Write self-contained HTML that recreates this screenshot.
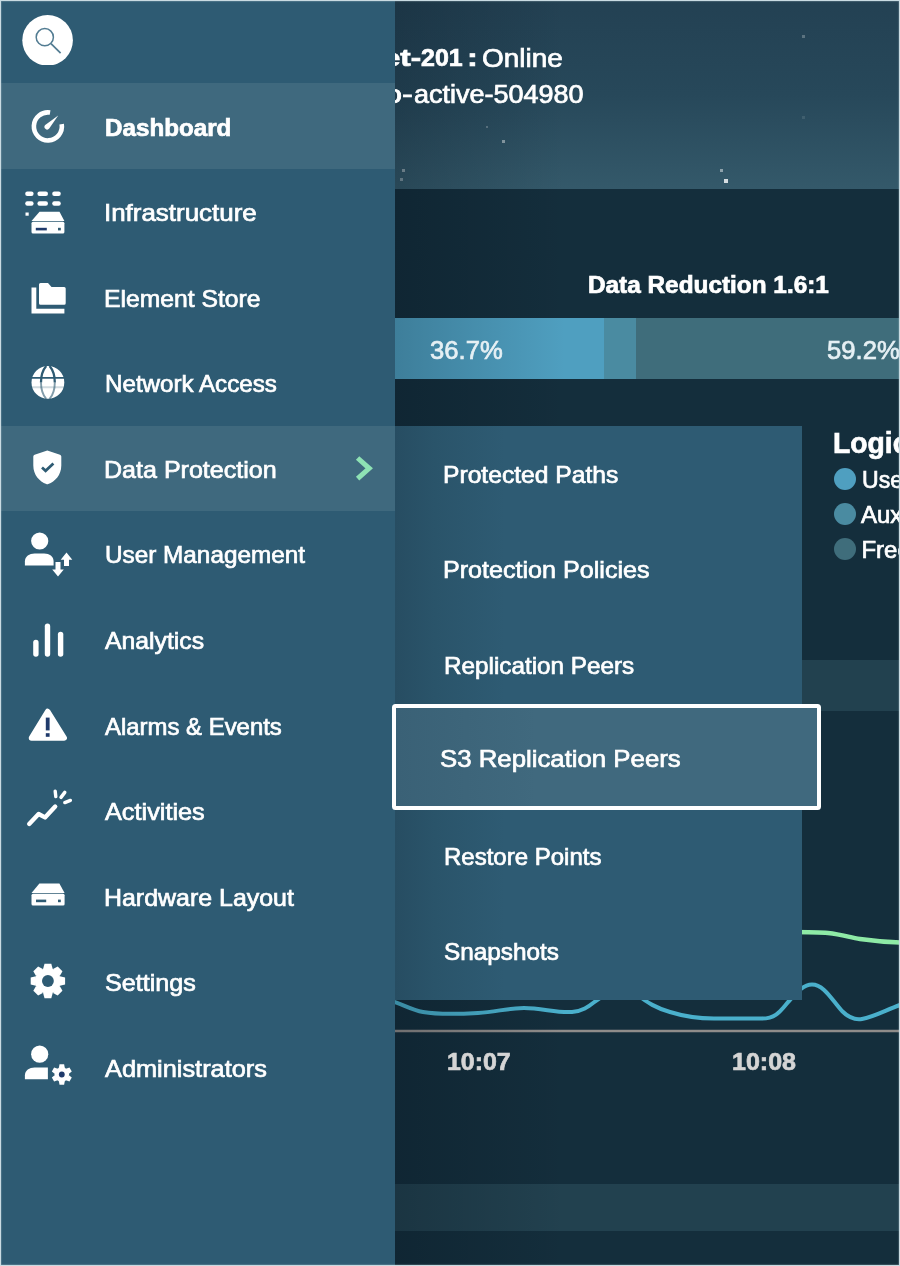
<!DOCTYPE html>
<html><head><meta charset="utf-8"><title>Dashboard</title>
<style>
html,body{margin:0;padding:0;background:#142e3c;}
body{width:900px;height:1266px;position:relative;overflow:hidden;font-family:"Liberation Sans",sans-serif;}
.abs{position:absolute;}
.t{position:absolute;white-space:nowrap;line-height:1;transform-origin:0 50%;display:inline-block;color:#fff;-webkit-text-stroke:0.7px currentColor;}
#wrap{position:absolute;left:0;top:0;width:900px;height:1266px;overflow:hidden;filter:blur(0.7px);}
svg{position:absolute;overflow:visible;}
</style></head><body>
<div id="wrap">

<div class="abs" id="main" style="left:395px;top:0;width:505px;height:1266px;background:#142e3c;overflow:hidden;">
<div class="abs" style="left:0;top:0;width:505px;height:189px;background:linear-gradient(180deg,#234153 0%,#27485a 50%,#34596a 100%);"></div>
<div class="abs" style="left:91.0px;top:126.0px;width:2px;height:2px;background:rgba(255,255,255,0.25);"></div>
<div class="abs" style="left:106.5px;top:140.0px;width:3px;height:3px;background:rgba(255,255,255,0.45);"></div>
<div class="abs" style="left:6.5px;top:169.0px;width:3px;height:3px;background:rgba(255,255,255,0.4);"></div>
<div class="abs" style="left:5.0px;top:177.5px;width:3px;height:3px;background:rgba(255,255,255,0.35);"></div>
<div class="abs" style="left:325.0px;top:169.0px;width:3px;height:3px;background:rgba(255,255,255,0.45);"></div>
<div class="abs" style="left:329.0px;top:178.5px;width:4px;height:4px;background:rgba(255,255,255,0.8);"></div>
<div class="abs" style="left:406.5px;top:34.5px;width:3px;height:3px;background:rgba(255,255,255,0.25);"></div>
<div class="abs" style="left:406.5px;top:115.5px;width:3px;height:3px;background:rgba(255,255,255,0.1);"></div>
<div class="abs" style="left:0;top:660px;width:505px;height:51px;background:#22414f;"></div>
<div class="abs" style="left:0;top:1184px;width:505px;height:47px;background:#22414f;"></div>
<div class="abs" style="left:0;top:318.3px;width:209px;height:60.5px;background:#4f9fc0;"></div>
<div class="abs" style="left:209px;top:318.3px;width:32px;height:60.5px;background:#4a8ba1;"></div>
<div class="abs" style="left:241px;top:318.3px;width:264px;height:60.5px;background:#3f6d7b;"></div>
<svg style="left:0;top:0" width="505" height="1266" viewBox="395 0 505 1266">
<line x1="395" y1="1031" x2="900" y2="1031" stroke="#8f8c8a" stroke-width="2.5"/>
<path d="M392 1001 C404 1005 412 1010 423 1012 C440 1015 460 1014 478 1013 C496 1012 508 1008 524 1008 C542 1008 556 1013 572 1012 C586 1011 592 1003 600 998 L610 990" fill="none" stroke="#4ab0cc" stroke-width="4"/>
<path d="M636 994 C648 1003 656 1008 670 1012 C686 1017 700 1018.5 714 1018.5 L762 1018.5 C778 1018.5 782 1008 790 1000 C798 991 804 984.5 812 984.5 C824 984.5 832 1000 842 1011 C850 1019 856 1020 862 1019 C874 1017 886 1010 900 1005" fill="none" stroke="#4ab0cc" stroke-width="4"/>
<path d="M790 932 C806 932 818 932 828 933 C842 934.5 850 937.5 860 939 C874 941 886 942 900 942.5" fill="none" stroke="#8eeaa6" stroke-width="4.5"/>
</svg>
<div class="abs" style="left:439px;top:467.8px;width:22px;height:22px;border-radius:50%;background:#4f9fc0;"></div>
<div class="abs" style="left:439px;top:502.6px;width:22px;height:22px;border-radius:50%;background:#4a8ba1;"></div>
<div class="abs" style="left:439px;top:537.6px;width:22px;height:22px;border-radius:50%;background:#3f6d7b;"></div>
<div class="abs" style="left:0;top:0;width:170px;height:1266px;background:linear-gradient(90deg,rgba(0,10,20,.22),rgba(0,10,20,0));"></div>
</div>
<span class="t" id="h1a" style="left:383.00px;top:46.38px;font-size:24px;font-weight:700;color:#fff;transform:scaleX(1.0000);transform:scaleX(1.3);">et-</span>
<span class="t" id="h1c" style="left:421.00px;top:46.38px;font-size:24px;font-weight:700;color:#fff;transform:scaleX(1.0000);transform:scaleX(1.04);">201</span>
<span class="t" id="h1d" style="left:467.00px;top:46.38px;font-size:24px;font-weight:700;color:#fff;transform:scaleX(1.0000);transform:scaleX(1.35);">:</span>
<span class="t" id="h1b" style="left:482.46px;top:44.69px;font-size:26px;color:#fff;transform:scaleX(1.0754);">Online</span>
<span class="t" id="h2a" style="left:384.40px;top:82.14px;font-size:25px;color:#fff;transform:scaleX(1.0000);transform:scaleX(1.3);">o-</span>
<span class="t" id="h2b" style="left:414.40px;top:82.14px;font-size:25px;color:#fff;transform:scaleX(1.0800);">active-504980</span>
<span class="t" id="dr" style="left:587.74px;top:273.81px;font-size:23.5px;font-weight:700;color:#fff;transform:scaleX(1.0361);">Data Reduction 1.6:1</span>
<span class="t" id="p1" style="left:429.51px;top:337.29px;font-size:26px;color:#e6f0f4;transform:scaleX(0.9861);">36.7%</span>
<span class="t" id="p2" style="left:827.40px;top:337.29px;font-size:26px;color:#e6f0f4;transform:scaleX(0.9861);">59.2%</span>
<span class="t" id="lg" style="left:833.20px;top:429.25px;font-size:29px;font-weight:700;color:#fff;transform:scaleX(1.0000);transform:scaleX(0.975);">Logical</span>
<span class="t" id="l1" style="left:862.00px;top:468.38px;font-size:24px;color:#fff;transform:scaleX(1.0000);transform:scaleX(0.96);">Used</span>
<span class="t" id="l2" style="left:861.00px;top:503.18px;font-size:24px;color:#fff;transform:scaleX(1.0000);">Aux</span>
<span class="t" id="l3" style="left:861.40px;top:537.68px;font-size:24px;color:#fff;transform:scaleX(1.0000);">Free</span>
<span class="t" id="t1" style="left:446.78px;top:1049.68px;font-size:24px;font-weight:700;color:#d5d5d5;transform:scaleX(1.0369);">10:07</span>
<span class="t" id="t2" style="left:732.45px;top:1049.68px;font-size:24px;font-weight:700;color:#d5d5d5;transform:scaleX(1.0419);">10:08</span>
<div class="abs" style="left:395px;top:426px;width:406.5px;height:573.5px;background:linear-gradient(90deg,#274d62 0px,#2a546a 40px,#2e5b73 110px);"></div>
<span class="t" id="s0" style="left:442.75px;top:462.68px;font-size:24px;color:#fff;transform:scaleX(1.0268);">Protected Paths</span>
<span class="t" id="s1" style="left:442.72px;top:558.18px;font-size:24px;color:#fff;transform:scaleX(1.0462);">Protection Policies</span>
<span class="t" id="s2" style="left:443.77px;top:653.68px;font-size:24px;color:#fff;transform:scaleX(1.0108);">Replication Peers</span>
<span class="t" id="s4" style="left:443.79px;top:845.18px;font-size:24px;color:#fff;transform:scaleX(1.0001);">Restore Points</span>
<span class="t" id="s5" style="left:443.72px;top:940.18px;font-size:24px;color:#fff;transform:scaleX(1.0135);">Snapshots</span>
<div class="abs" style="left:0;top:0;width:395px;height:1266px;background:#2e5b73;"></div>
<div class="abs" style="left:0;top:83px;width:395px;height:86px;background:#3f697e;"></div>
<div class="abs" style="left:0;top:426px;width:395px;height:85px;background:#3f697e;"></div>
<div class="abs" style="left:392px;top:704px;width:421px;height:98px;border:4px solid #fff;border-radius:3.5px;background:linear-gradient(90deg,#3a6176 0px,#40697e 140px);"></div>
<span class="t" id="s3" style="left:439.89px;top:747.18px;font-size:24px;color:#fff;transform:scaleX(1.0739);">S3 Replication Peers</span>
<span class="t" id="m0" style="left:105.48px;top:115.68px;font-size:24px;font-weight:700;color:#fff;transform:scaleX(1.0082);">Dashboard</span>
<span class="t" id="m1" style="left:104.30px;top:201.23px;font-size:24px;color:#fff;transform:scaleX(1.0798);">Infrastructure</span>
<span class="t" id="m2" style="left:104.33px;top:286.78px;font-size:24px;color:#fff;transform:scaleX(1.0288);">Element Store</span>
<span class="t" id="m3" style="left:104.86px;top:372.33px;font-size:24px;color:#fff;transform:scaleX(1.0064);">Network Access</span>
<span class="t" id="m4" style="left:103.80px;top:457.88px;font-size:24px;color:#fff;transform:scaleX(1.0439);">Data Protection</span>
<span class="t" id="m5" style="left:104.90px;top:543.43px;font-size:24px;color:#fff;transform:scaleX(1.0131);">User Management</span>
<span class="t" id="m6" style="left:105.48px;top:628.98px;font-size:24px;color:#fff;transform:scaleX(1.0317);">Analytics</span>
<span class="t" id="m7" style="left:104.50px;top:714.53px;font-size:24px;color:#fff;transform:scaleX(0.9968);">Alarms &amp; Events</span>
<span class="t" id="m8" style="left:105.47px;top:800.08px;font-size:24px;color:#fff;transform:scaleX(1.0532);">Activities</span>
<span class="t" id="m9" style="left:103.81px;top:885.63px;font-size:24px;color:#fff;transform:scaleX(1.0389);">Hardware Layout</span>
<span class="t" id="m10" style="left:104.93px;top:971.18px;font-size:24px;color:#fff;transform:scaleX(1.0471);">Settings</span>
<span class="t" id="m11" style="left:105.47px;top:1056.73px;font-size:24px;color:#fff;transform:scaleX(1.0554);">Administrators</span>
<svg style="left:0;top:0" width="395" height="1266"><path d="M357.6 458 L369.2 468.3 L357.6 478.6" fill="none" stroke="#8ee2b4" stroke-width="5"/></svg>
<svg style="left:0;top:0" width="395" height="1266" viewBox="0 0 395 1266" fill="#fff">
<!-- search -->
<clipPath id="sc"><rect x="20" y="10" width="60" height="54.9"/></clipPath><circle cx="47.6" cy="40.3" r="25.3" clip-path="url(#sc)"/>
<circle cx="44.8" cy="37.2" r="8.6" fill="none" stroke="#527c92" stroke-width="1.5"/>
<path d="M51 43.6 L60.6 53.2" stroke="#527c92" stroke-width="1.7" fill="none"/>
<!-- dashboard gauge -->
<path d="M50.1 112.6 A14 14 0 1 0 61.7 124.2" fill="none" stroke="#fff" stroke-width="4.6"/>
<path d="M58.2 115.4 L49.2 128.6 A2.6 2.6 0 0 1 45.2 125 Z"/>
<!-- infrastructure -->
<g>
<rect x="25.2" y="191.6" width="8.4" height="4.4" rx="2.2"/><rect x="37.4" y="191.6" width="10.6" height="4.4" rx="2.2"/><rect x="52.2" y="191.6" width="8.6" height="4.4" rx="2.2"/>
<rect x="25.2" y="201.3" width="8.4" height="4.4" rx="2.2"/><rect x="37.4" y="201.3" width="10.6" height="4.4" rx="2.2"/><rect x="52.2" y="201.3" width="8.6" height="4.4" rx="2.2"/>
<rect x="25.5" y="212.5" width="3.2" height="3.2"/>
<path d="M39.5 211.7 H59.5 L64.4 220.9 H31.5 Z"/>
<rect x="31.5" y="221.7" width="32.9" height="11.7" rx="1.5"/>
<rect x="35.8" y="227.8" width="11" height="2.6" fill="#1f3a6b"/><rect x="58" y="227.8" width="2.8" height="2.6" fill="#2e5b73"/>
</g>
<!-- element store -->
<path d="M31.5 287.5 H36.3 V308.7 H64.4 V313.5 H31.5 Z"/>
<path d="M39 284.5 a1.5 1.5 0 0 1 1.5 -1.5 H48 L51.5 287 H64.2 a1.5 1.5 0 0 1 1.5 1.5 V303.2 a1.5 1.5 0 0 1 -1.5 1.5 H40.5 a1.5 1.5 0 0 1 -1.5 -1.5 Z"/>
<!-- globe -->
<g>
<circle cx="47.9" cy="382.4" r="16.4"/>
<g fill="none" stroke="#2e5b73" stroke-width="1.9">
<path d="M31 377.9 H65"/>
<path d="M31 387.2 H65" stroke-opacity=".22"/>
<path d="M46.2 366 C42.8 370 41 375.6 41 382.4" stroke-width="2.3"/><path d="M49.6 366 C53 370 54.8 375.6 54.8 382.4" stroke-width="2.3"/>
<path d="M41 382.4 C41 389.2 42.8 394.8 46.2 398.8" stroke-opacity=".6"/><path d="M54.8 382.4 C54.8 389.2 53 394.8 49.6 398.8" stroke-opacity=".6"/>
</g>
</g>
<!-- shield -->
<path d="M47.3 450.6 L60 454.8 Q61.3 455.3 61.3 456.6 V465.5 C61.3 475 55 481.6 48.3 484 Q47.3 484.4 46.3 484 C39.6 481.6 33.3 475 33.3 465.5 V456.6 Q33.3 455.3 34.6 454.8 Z"/>
<path d="M42 467.4 L45.6 470.8 L53.4 463.4" fill="none" stroke="#2e5b73" stroke-width="2.7"/>
<!-- user mgmt -->
<circle cx="39.7" cy="541" r="8.6"/>
<path d="M24.9 565.6 V561.5 C24.9 556.6 29.4 553.6 34.6 553.6 H44.2 C49.4 553.6 53.6 556.6 53.6 561.5 V565.6 Z"/>
<path d="M55.5 562 H60.5 V569.5 H63.8 L58 576.6 L52.2 569.5 H55.5 Z"/>
<path d="M64 566 H69 V559.7 H72.3 L66.5 552.6 L60.7 559.7 H64 Z"/>
<!-- analytics -->
<g fill="none" stroke="#fff" stroke-width="5.4" stroke-linecap="round"><path d="M35.9 642.5 V654"/><path d="M47.5 626.3 V654"/><path d="M60.6 634.5 V654"/></g>
<!-- alarm -->
<path d="M47.7 711.5 L64.2 738 H31.5 Z" stroke="#fff" stroke-width="5.5" stroke-linejoin="round"/>
<rect x="45.8" y="717.6" width="3.8" height="12.8" fill="#1f3a6b"/><rect x="45.8" y="733.2" width="3.8" height="3.6" fill="#1f3a6b"/>
<!-- activities -->
<g fill="none" stroke="#fff" stroke-width="4.4" stroke-linecap="round" stroke-linejoin="round">
<path d="M29.2 824 L38.6 814 L45 817.4 L55.2 806.6"/>
</g>
<g fill="none" stroke="#fff" stroke-width="3.4" stroke-linecap="round">
<path d="M55.2 791.2 L55.8 796.6"/><path d="M64.8 792.4 L61 797.4"/><path d="M70.4 800.4 L64.8 802.6"/>
</g>
<!-- hardware -->
<path d="M39.4 883.5 H59.4 L64.6 893 H31.5 Z"/>
<rect x="31.5" y="893.8" width="33.1" height="11.8" rx="1.5"/>
<rect x="36" y="899.6" width="10.2" height="2.6" fill="#2e5b73"/><rect x="58" y="899.6" width="2.8" height="2.6" fill="#2e5b73"/>
<!-- settings gear -->
<g transform="translate(47.9 981)">
<circle r="12.9"/>
<path d="M-4.8 -12 L-3.4 -17.2 H3.4 L4.8 -12 Z" transform="rotate(0)"/><path d="M-4.8 -12 L-3.4 -17.2 H3.4 L4.8 -12 Z" transform="rotate(45)"/><path d="M-4.8 -12 L-3.4 -17.2 H3.4 L4.8 -12 Z" transform="rotate(90)"/><path d="M-4.8 -12 L-3.4 -17.2 H3.4 L4.8 -12 Z" transform="rotate(135)"/><path d="M-4.8 -12 L-3.4 -17.2 H3.4 L4.8 -12 Z" transform="rotate(180)"/><path d="M-4.8 -12 L-3.4 -17.2 H3.4 L4.8 -12 Z" transform="rotate(225)"/><path d="M-4.8 -12 L-3.4 -17.2 H3.4 L4.8 -12 Z" transform="rotate(270)"/><path d="M-4.8 -12 L-3.4 -17.2 H3.4 L4.8 -12 Z" transform="rotate(315)"/>
<circle r="5.9" fill="#2e5b73"/>
</g>
<!-- administrators -->
<circle cx="39.7" cy="1054.2" r="8.6"/>
<path d="M24.9 1079.3 V1075.4 C24.9 1070.5 29.4 1067.5 34.6 1067.5 H47.9 V1079.3 Z"/>
<g transform="translate(61.8 1074.5)">
<circle r="7.3"/>
<path d="M-3 -6.5 L-2.3 -10.2 H2.3 L3 -6.5 Z" transform="rotate(0)"/><path d="M-3 -6.5 L-2.3 -10.2 H2.3 L3 -6.5 Z" transform="rotate(60)"/><path d="M-3 -6.5 L-2.3 -10.2 H2.3 L3 -6.5 Z" transform="rotate(120)"/><path d="M-3 -6.5 L-2.3 -10.2 H2.3 L3 -6.5 Z" transform="rotate(180)"/><path d="M-3 -6.5 L-2.3 -10.2 H2.3 L3 -6.5 Z" transform="rotate(240)"/><path d="M-3 -6.5 L-2.3 -10.2 H2.3 L3 -6.5 Z" transform="rotate(300)"/>
<circle r="2.9" fill="#1f3a6b"/>
</g>
</svg>

</div>
<div class="abs" style="left:0;top:0;width:898px;height:1264px;border:1px solid #c9dbe2;box-shadow:inset 0 0 1px 0.5px rgba(201,219,226,.35);pointer-events:none;"></div>
</body></html>
